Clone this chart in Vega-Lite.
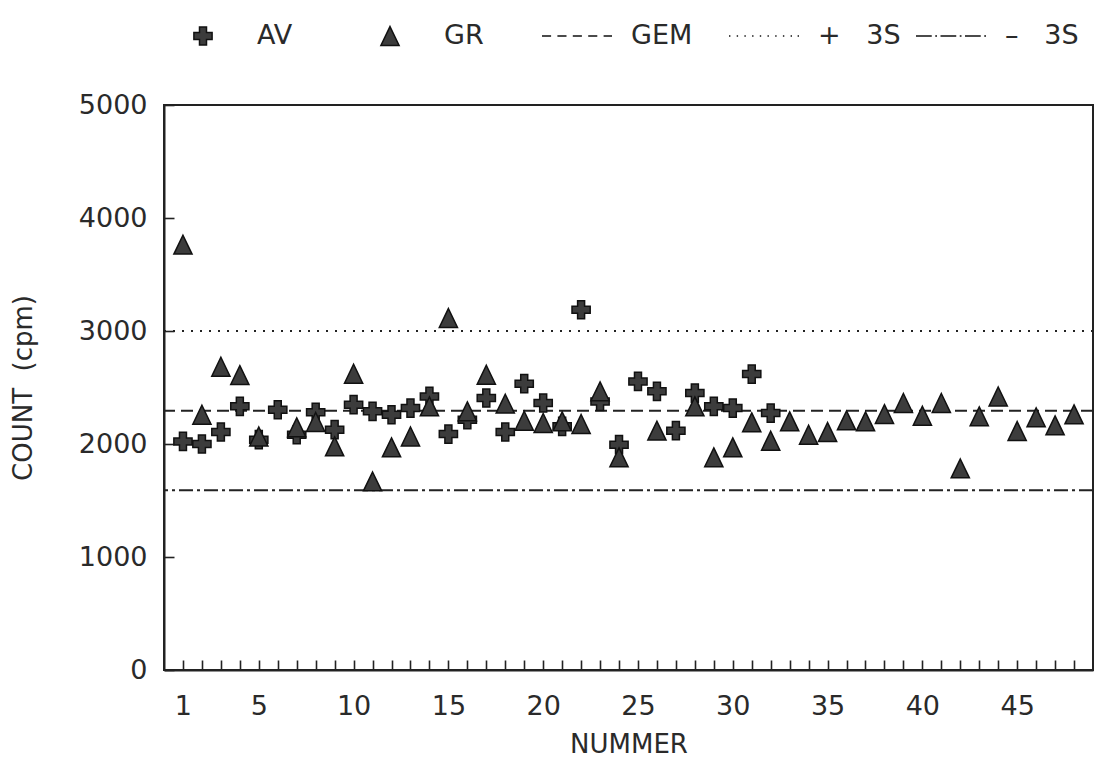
{
  "$schema": "https://vega.github.io/schema/vega-lite/v6.json",
  "width": 929,
  "height": 565,
  "autosize": {"type": "none"},
  "padding": {"left": 164, "top": 105, "right": 2, "bottom": 92},
  "background": "white",
  "config": {
    "font": "DejaVu Sans",
    "view": {"stroke": "#222", "strokeWidth": 2},
    "axis": {
      "labelFont": "DejaVu Sans",
      "labelFontSize": 27,
      "labelColor": "#2a2a2a",
      "titleFont": "DejaVu Sans",
      "titleFontSize": 26,
      "titleFontWeight": "normal",
      "titleColor": "#2a2a2a",
      "domainColor": "#222",
      "domainWidth": 2,
      "tickColor": "#222",
      "tickWidth": 1.6,
      "grid": false
    }
  },
  "datasets": {
    "counts": [
      {"n": 1, "series": "AV", "cpm": 2023}, {"n": 2, "series": "AV", "cpm": 2000},
      {"n": 3, "series": "AV", "cpm": 2106}, {"n": 4, "series": "AV", "cpm": 2333},
      {"n": 5, "series": "AV", "cpm": 2038}, {"n": 6, "series": "AV", "cpm": 2303},
      {"n": 7, "series": "AV", "cpm": 2082}, {"n": 8, "series": "AV", "cpm": 2280},
      {"n": 9, "series": "AV", "cpm": 2127}, {"n": 10, "series": "AV", "cpm": 2348},
      {"n": 11, "series": "AV", "cpm": 2289}, {"n": 12, "series": "AV", "cpm": 2259},
      {"n": 13, "series": "AV", "cpm": 2318}, {"n": 14, "series": "AV", "cpm": 2421},
      {"n": 15, "series": "AV", "cpm": 2088}, {"n": 16, "series": "AV", "cpm": 2215},
      {"n": 17, "series": "AV", "cpm": 2407}, {"n": 18, "series": "AV", "cpm": 2106},
      {"n": 19, "series": "AV", "cpm": 2534}, {"n": 20, "series": "AV", "cpm": 2363},
      {"n": 21, "series": "AV", "cpm": 2156}, {"n": 22, "series": "AV", "cpm": 3188},
      {"n": 23, "series": "AV", "cpm": 2377}, {"n": 24, "series": "AV", "cpm": 1994},
      {"n": 25, "series": "AV", "cpm": 2554}, {"n": 26, "series": "AV", "cpm": 2466},
      {"n": 27, "series": "AV", "cpm": 2118}, {"n": 28, "series": "AV", "cpm": 2451},
      {"n": 29, "series": "AV", "cpm": 2333}, {"n": 30, "series": "AV", "cpm": 2318},
      {"n": 31, "series": "AV", "cpm": 2619}, {"n": 32, "series": "AV", "cpm": 2274},
      {"n": 1, "series": "GR", "cpm": 3764}, {"n": 2, "series": "GR", "cpm": 2259},
      {"n": 3, "series": "GR", "cpm": 2684}, {"n": 4, "series": "GR", "cpm": 2610},
      {"n": 5, "series": "GR", "cpm": 2067}, {"n": 7, "series": "GR", "cpm": 2147},
      {"n": 8, "series": "GR", "cpm": 2195}, {"n": 9, "series": "GR", "cpm": 1979},
      {"n": 10, "series": "GR", "cpm": 2622}, {"n": 11, "series": "GR", "cpm": 1669},
      {"n": 12, "series": "GR", "cpm": 1970}, {"n": 13, "series": "GR", "cpm": 2067},
      {"n": 14, "series": "GR", "cpm": 2333}, {"n": 15, "series": "GR", "cpm": 3115},
      {"n": 16, "series": "GR", "cpm": 2289}, {"n": 17, "series": "GR", "cpm": 2613},
      {"n": 18, "series": "GR", "cpm": 2357}, {"n": 19, "series": "GR", "cpm": 2206},
      {"n": 20, "series": "GR", "cpm": 2186}, {"n": 21, "series": "GR", "cpm": 2200},
      {"n": 22, "series": "GR", "cpm": 2177}, {"n": 23, "series": "GR", "cpm": 2466},
      {"n": 24, "series": "GR", "cpm": 1882}, {"n": 26, "series": "GR", "cpm": 2118},
      {"n": 28, "series": "GR", "cpm": 2333}, {"n": 29, "series": "GR", "cpm": 1882},
      {"n": 30, "series": "GR", "cpm": 1970}, {"n": 31, "series": "GR", "cpm": 2192},
      {"n": 32, "series": "GR", "cpm": 2029}, {"n": 33, "series": "GR", "cpm": 2200},
      {"n": 34, "series": "GR", "cpm": 2082}, {"n": 35, "series": "GR", "cpm": 2106},
      {"n": 36, "series": "GR", "cpm": 2209}, {"n": 37, "series": "GR", "cpm": 2200},
      {"n": 38, "series": "GR", "cpm": 2265}, {"n": 39, "series": "GR", "cpm": 2363},
      {"n": 40, "series": "GR", "cpm": 2250}, {"n": 41, "series": "GR", "cpm": 2363},
      {"n": 42, "series": "GR", "cpm": 1784}, {"n": 43, "series": "GR", "cpm": 2245},
      {"n": 44, "series": "GR", "cpm": 2421}, {"n": 45, "series": "GR", "cpm": 2115},
      {"n": 46, "series": "GR", "cpm": 2236}, {"n": 47, "series": "GR", "cpm": 2165},
      {"n": 48, "series": "GR", "cpm": 2262}
    ],
    "limits": [
      {"line": "GEM", "cpm": 2295},
      {"line": "+3S", "cpm": 3000},
      {"line": "-3S", "cpm": 1590}
    ]
  },
  "layer": [
    {
      "data": {"name": "limits"},
      "mark": {"type": "rule", "strokeWidth": 2, "color": "#222"},
      "encoding": {
        "y": {"field": "cpm", "type": "quantitative", "scale": {"domain": [0, 5000], "nice": false}},
        "strokeDash": {
          "field": "line",
          "type": "nominal",
          "scale": {"domain": ["GEM", "+3S", "-3S"], "range": [[12, 6], [2, 7], [14, 4, 3, 4]]},
          "legend": null
        }
      }
    },
    {
      "data": {"name": "counts"},
      "mark": {"type": "point", "filled": true, "opacity": 1, "color": "#3c3c3c", "stroke": "#111", "strokeWidth": 1.5, "size": 4900},
      "encoding": {
        "x": {
          "field": "n",
          "type": "quantitative",
          "scale": {"domain": [0, 49], "nice": false, "zero": false},
          "axis": {
            "title": "NUMMER",
            "values": [1,2,3,4,5,6,7,8,9,10,11,12,13,14,15,16,17,18,19,20,21,22,23,24,25,26,27,28,29,30,31,32,33,34,35,36,37,38,39,40,41,42,43,44,45,46,47,48],
            "labelExpr": "indexof([1,5,10,15,20,25,30,35,40,45], datum.value) >= 0 ? datum.label : ''",
            "tickSize": -10,
            "labelPadding": 33,
            "labelFlush": false,
            "labelOverlap": false,
            "titlePadding": 12
          }
        },
        "y": {
          "field": "cpm",
          "type": "quantitative",
          "scale": {"domain": [0, 5000], "nice": false},
          "axis": {
            "title": "COUNT\u00a0 (cpm)",
            "values": [0, 1000, 2000, 3000, 4000, 5000],
            "format": "d",
            "tickSize": -10,
            "labelPadding": 27,
            "labelFlush": false,
            "titlePadding": 42
          }
        },
        "shape": {
          "field": "series",
          "type": "nominal",
          "scale": {
            "domain": ["AV", "GR", "GEM", "+\u00a0\u00a0\u00a03S", "–\u00a0\u00a0\u00a03S"],
            "range": [
              "M-0.1,-0.26H0.1V-0.1H0.26V0.1H0.1V0.26H-0.1V0.1H-0.26V-0.1H-0.1Z",
              "M0,-0.27L0.26,0.27H-0.26Z",
              "M-1,0H-0.74M-0.56,0H-0.3M-0.12,0H0.14M0.32,0H0.58M0.76,0H1",
              "M-1,0H-0.96M-0.78,0H-0.74M-0.56,0H-0.52M-0.34,0H-0.3M-0.12,0H-0.08M0.1,0H0.14M0.32,0H0.36M0.54,0H0.58M0.76,0H0.8M0.96,0H1",
              "M-1,0H-0.55M-0.45,0H-0.4M-0.3,0H0.15M0.25,0H0.3M0.4,0H0.85M0.95,0H1"
            ]
          },
          "legend": {
            "orient": "none",
            "legendX": 3,
            "legendY": -105,
            "direction": "horizontal",
            "columns": 5,
            "gridAlign": "all",
            "title": null,
            "symbolSize": 4900,
            "labelFont": "DejaVu Sans",
            "labelFontSize": 27,
            "labelColor": "#2a2a2a",
            "labelOffset": 18,
            "columnPadding": 12,
            "encode": {
              "symbols": {
                "update": {
                  "fill": {"value": "#3c3c3c"},
                  "stroke": {"value": "#111"},
                  "strokeWidth": {"value": 1.8},
                  "size": {"signal": "datum.index < 2 ? 3000 : 4900"}
                }
              }
            }
          }
        }
      }
    }
  ]
}
